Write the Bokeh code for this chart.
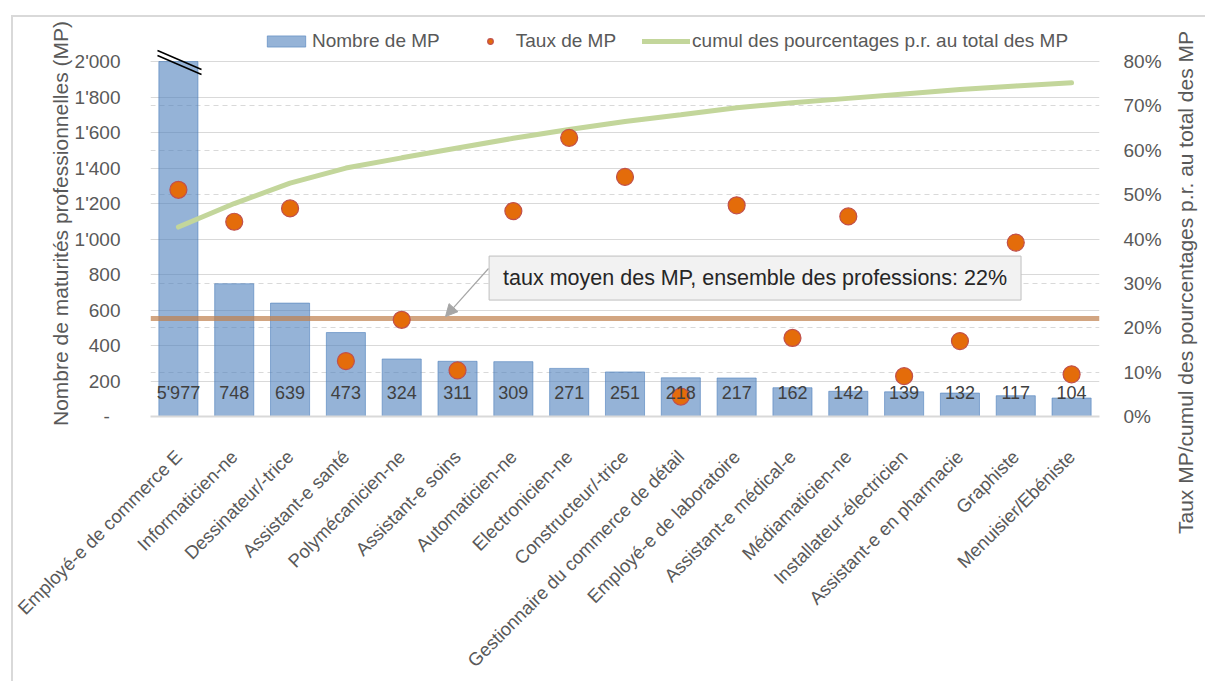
import math
from bokeh.plotting import figure
from bokeh.layouts import row
from bokeh.models import (ColumnDataSource, FactorRange, Range1d, LinearAxis, FixedTicker,
                          Grid, Legend, LegendItem, Label, LabelSet, Arrow, NormalHead)
from bokeh.core.properties import value
from bokeh.embed import file_html
from bokeh.resources import INLINE

# ---------------- data ----------------
categories = ["Employé-e de commerce E", "Informaticien-ne", "Dessinateur/-trice",
              "Assistant-e santé", "Polymécanicien-ne", "Assistant-e soins",
              "Automaticien-ne", "Electronicien-ne", "Constructeur/-trice",
              "Gestionnaire du commerce de détail", "Employé-e de laboratoire",
              "Assistant-e médical-e", "Médiamaticien-ne", "Installateur-électricien",
              "Assistant-e en pharmacie", "Graphiste", "Menuisier/Ebéniste"]
nombre_mp = [5977, 748, 639, 473, 324, 311, 309, 271, 251, 218, 217, 162, 142, 139, 132, 117, 104]
taux_mp = [0.511, 0.439, 0.469, 0.125, 0.218, 0.104, 0.463, 0.628, 0.540, 0.045,
           0.476, 0.177, 0.451, 0.091, 0.170, 0.392, 0.095]
cumul_pct = [0.427, 0.480, 0.526, 0.560, 0.583, 0.605, 0.627, 0.647, 0.665, 0.680,
             0.696, 0.707, 0.717, 0.727, 0.737, 0.745, 0.752]
taux_moyen = 0.22
left_ticks = [0, 200, 400, 600, 800, 1000, 1200, 1400, 1600, 1800, 2000]
left_tick_labels = ["-\u2007", "200", "400", "600", "800", "1'000", "1'200", "1'400",
                    "1'600", "1'800", "2'000"]
right_ticks = [0.0, 0.1, 0.2, 0.3, 0.4, 0.5, 0.6, 0.7, 0.8]
right_tick_labels = ["0%", "10%", "20%", "30%", "40%", "50%", "60%", "70%", "80%"]
legend_labels = ["Nombre de MP", "Taux de MP", "cumul des pourcentages p.r. au total des MP"]
left_title = "Nombre de maturités professionnelles (MP)"
right_title = "Taux MP/cumul des pourcentages p.r. au total des MP"
note_text = "taux moyen des MP, ensemble des professions: 22%"

AXIS_MAX = 2000
Y_TOP = 2175
PCT_TOP = 0.8 * Y_TOP / AXIS_MAX
FONT = "Liberation Sans"
GREY = "#595959"
H = 664

bar_top = [min(v, AXIS_MAX) for v in nombre_mp]
bar_labels = [f"{v:,}".replace(",", "'") for v in nombre_mp]
src = ColumnDataSource(dict(cat=categories, top=bar_top, taux=taux_mp, cumul=cumul_pct,
                            label=bar_labels, label_y=[135] * len(categories)))

p = figure(width=1152, height=H, x_range=FactorRange(factors=categories),
           y_range=Range1d(0, Y_TOP), output_backend="svg", toolbar_location=None,
           min_border_left=137, min_border_right=66, min_border_top=13, min_border_bottom=265)
p.frame_align = False
p.extra_y_ranges = {"pct": Range1d(0, PCT_TOP)}
p.outline_line_color = None
p.background_fill_color = "white"
p.border_fill_color = "white"

# grids
p.xgrid.grid_line_color = None
p.ygrid.ticker = FixedTicker(ticks=left_ticks)
p.ygrid.grid_line_color = "#D9D9D9"
p.ygrid.grid_line_width = 1
g2 = Grid(dimension=1, ticker=FixedTicker(ticks=right_ticks), y_range_name="pct",
          grid_line_color="#D9D9D9", grid_line_dash="5 4", grid_line_width=1)
p.add_layout(g2)

# axes
xa = p.xaxis[0]
xa.major_label_orientation = math.pi / 4
xa.major_label_text_font = FONT
xa.major_label_text_font_size = "18.5px"
xa.major_label_text_color = GREY
xa.axis_line_color = "#D9D9D9"
xa.axis_line_width = 2
xa.major_tick_line_color = None
xa.minor_tick_line_color = None
xa.major_label_standoff = 31

ya = p.yaxis[0]
ya.ticker = FixedTicker(ticks=left_ticks)
ya.major_label_overrides = {t: l for t, l in zip(left_ticks, left_tick_labels)}
ya.major_label_text_font = FONT
ya.major_label_text_font_size = "19px"
ya.major_label_text_color = GREY
ya.axis_line_color = None
ya.major_tick_line_color = None
ya.minor_tick_line_color = None
ya.major_label_standoff = 24
ya.axis_label = left_title
ya.axis_label_text_font = FONT
ya.axis_label_text_font_size = "21px"
ya.axis_label_text_font_style = "normal"
ya.axis_label_text_color = GREY
ya.axis_label_standoff = 0

ra = LinearAxis(y_range_name="pct", ticker=FixedTicker(ticks=right_ticks))
ra.major_label_overrides = {t: l for t, l in zip(right_ticks, right_tick_labels)}
ra.major_label_text_font = FONT
ra.major_label_text_font_size = "19px"
ra.major_label_text_color = GREY
ra.axis_line_color = None
ra.major_tick_line_color = None
ra.minor_tick_line_color = None
ra.major_label_standoff = 18
p.add_layout(ra, "right")

# glyphs
bars = p.vbar(x="cat", top="top", width=0.7, source=src, fill_color="#4F81BD",
              fill_alpha=0.6, line_color="#4F81BD", line_alpha=0.6)
p.hspan(y=[taux_moyen], y_range_name="pct", line_color="#C0804D", line_alpha=0.71, line_width=5)
cum = p.line(x="cat", y="cumul", source=src, y_range_name="pct", line_color="#C3D69B",
             line_width=5, line_cap="round")
pts = p.scatter(x="cat", y="taux", source=src, y_range_name="pct", size=17,
                fill_color="#E46C0A", line_color="#C0504D", line_width=1.2)

# bar value labels
p.add_layout(LabelSet(x="cat", y="label_y", text="label", source=src, text_align="center",
                      text_baseline="middle", text_font=value(FONT), text_font_size="18px",
                      text_color="#404040"))

# axis break marks on the first bar
p.segment(x0=[0.125, 0.125], y0=[AXIS_MAX + 62, AXIS_MAX + 34],
          x1=[0.914, 0.914], y1=[AXIS_MAX - 45, AXIS_MAX - 73],
          line_color="black", line_width=1.5)

# legend
legend = Legend(items=[LegendItem(label=legend_labels[0], renderers=[bars]),
                       LegendItem(label=legend_labels[1], renderers=[pts]),
                       LegendItem(label=legend_labels[2], renderers=[cum])],
                orientation="horizontal", location=(112, 364), padding=0, margin=0,
                spacing=26, glyph_width=48, glyph_height=14, label_standoff=2,
                label_height=20, label_text_font=FONT, label_text_font_size="19px",
                label_text_color=GREY, border_line_color=None, background_fill_alpha=0)
p.add_layout(legend)

# annotation
p.add_layout(Arrow(end=NormalHead(size=12, fill_color="#A6A6A6", line_color="#A6A6A6"),
                   x_start=6.055, y_start=834, x_end=5.285, y_end=563,
                   line_color="#A6A6A6", line_width=1.2))
p.add_layout(Label(x=10.83, y=780, text=note_text, text_align="center", text_baseline="middle",
                   text_font=FONT, text_font_size="21.5px", text_color="#262626",
                   background_fill_color="#F2F2F2", border_line_color="#BFBFBF",
                   padding=dict(x=14, y=10)))

# right-hand axis title in a narrow companion figure
t = figure(width=40, height=H, x_range=Range1d(0, 40), y_range=Range1d(0, H),
           output_backend="svg", toolbar_location=None, x_axis_location=None,
           y_axis_location=None, min_border=0)
t.frame_align = False
t.outline_line_color = None
t.grid.visible = False
t.add_layout(Label(x=20, y=H - 265, text=right_title, angle=math.pi / 2, text_align="center",
                   text_baseline="middle", text_font=FONT, text_font_size="21px",
                   text_color=GREY))

layout = row(p, t)
layout.margin = (15, 0, 0, 11)
layout.styles = {"border-top": "2px solid #D9D9D9", "border-left": "2px solid #D9D9D9"}
open("out.html", "w").write(file_html(layout, INLINE))
